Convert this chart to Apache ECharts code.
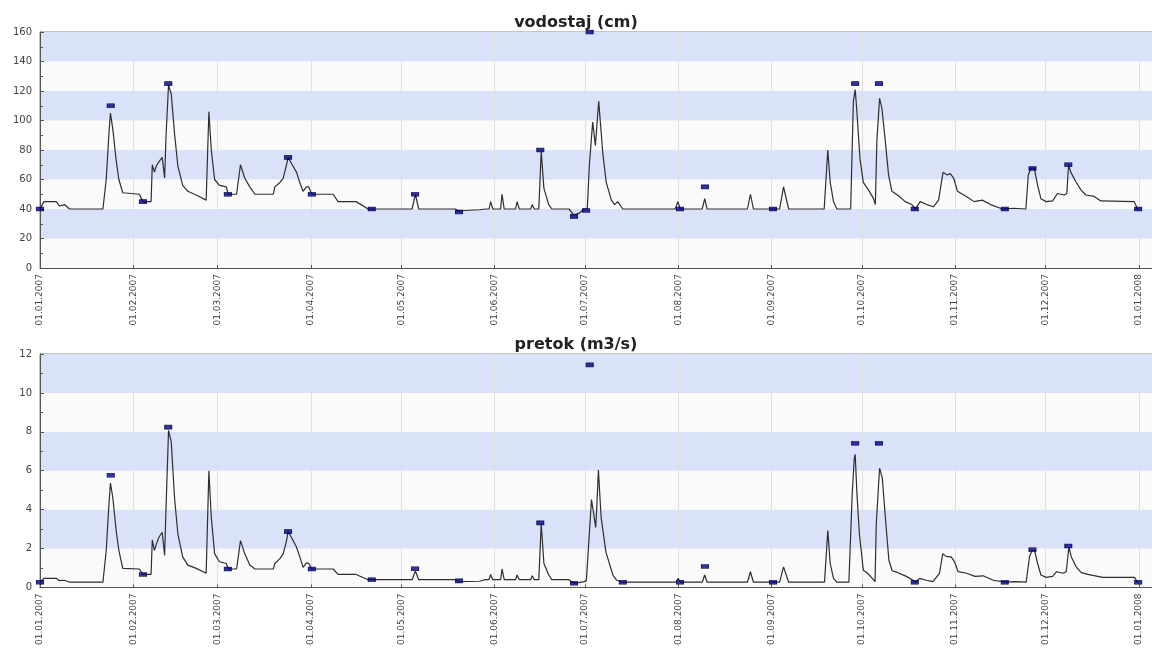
<!DOCTYPE html>
<html>
<head>
<meta charset="utf-8">
<title>vodostaj / pretok 2007</title>
<script src="https://cdn.jsdelivr.net/npm/echarts@6/dist/echarts.min.js"></script>
<style>
  html, body { margin: 0; padding: 0; background: #fff; }
  #chart { width: 1152px; height: 648px; }
</style>
</head>
<body>
<div id="chart"></div>
<script>
// x values are days counted from 01.01.2007
const monthStarts = [0, 31, 59, 90, 120, 151, 181, 212, 243, 273, 304, 334, 365]
const tickLabels = ['01.01.2007', '01.02.2007', '01.03.2007', '01.04.2007', '01.05.2007', '01.06.2007',
  '01.07.2007', '01.08.2007', '01.09.2007', '01.10.2007', '01.11.2007', '01.12.2007', '01.01.2008']

// vodostaj (cm) line
const stageDays = [0, 1.3, 5.4, 6.5, 8.1, 9.8, 20.9, 22, 22.9, 23.4, 24.2, 25.3, 26.2, 27.5, 33, 34.2, 36.9, 37.3, 38, 38.6,
  39.5, 40.6, 41.4, 41.9, 42.7, 43.6, 44.7, 45.8, 47.4, 49.1, 51.9, 55.2, 56.1, 56.9, 58, 59.6, 61.9, 62.5, 65.3, 66.6,
  68, 69.7, 71.4, 77.5, 78, 79.7, 80.8, 81.9, 82.4, 83.5, 85.2, 86.3, 87.4, 88.5, 89.3, 90.2, 97.4, 99, 105, 109,
  123.6, 124.7, 125.8, 138, 139, 141, 146, 148, 149.2, 149.7, 150.4, 153, 153.5, 154.2, 158, 158.5, 159.2, 163, 163.5, 164.2,
  165.7, 166.5, 167.4, 169, 170, 175.7, 177.3, 179, 180.7, 181.8, 182.5, 183.6, 184.5, 185.6, 187, 188.1, 189.8, 190.9, 191.9, 193.6,
  211, 211.9, 212.7, 220, 220.8, 221.6, 235, 236, 237, 245.7, 247, 248.7, 260.5, 261.7, 262.5, 263.6, 264.7, 269.3, 270.2, 270.8,
  271.3, 272.4, 273.5, 275.2, 276.9, 277.5, 278, 278.9, 279.7, 280.8, 281.9, 283, 285.2, 287.4, 289.6, 290.8, 292.4, 294.6, 296.8, 298.5,
  300, 301.3, 302.4, 303.5, 304.8, 308.1, 310.3, 313, 315.8, 319.7, 323.6, 327.5, 328.3, 329.2, 330.3, 331.4, 332.5, 334.2, 336.4, 338,
  340.3, 341.1, 341.7, 342.4, 344.1, 345.8, 347.4, 350.2, 352.4, 363.5, 364.6, 365]
const stage = [40, 45, 45, 42, 43, 40, 40, 60, 91, 105, 94, 73, 60, 51, 50, 45, 45, 70, 65, 69,
  72, 75, 61, 91, 124, 118, 91, 69, 56, 52, 49.5, 46, 106, 80, 60, 56, 55, 50, 50, 70,
  61, 55, 50, 50, 55, 58, 61, 70, 75, 71, 65, 58, 52, 55, 55, 50, 50, 45, 45, 40,
  40, 50, 40, 40, 38.5, 39, 39.5, 40, 40, 45, 40, 40, 50, 40, 40, 45, 40, 40, 43, 40,
  40, 79, 54, 43, 40, 40, 36, 37, 40, 40, 70, 99, 83, 113, 77, 58, 46, 43, 45, 40,
  40, 45, 40, 40, 47, 40, 40, 50, 40, 40, 55, 40, 40, 80, 58, 45, 40, 40, 113, 121,
  108, 74, 58, 53, 47, 43, 86, 115, 108, 86, 63, 52, 49, 45, 43, 40, 45, 43, 41.5, 46,
  65, 63, 64, 61, 52, 48, 45, 46, 43, 40, 40.5, 40, 63, 67.5, 67.5, 56, 47, 45, 45.5, 50.5,
  49.5, 50.5, 70, 65, 58.5, 53, 49.5, 48.5, 45.5, 45, 40, 40]

// vodostaj markers
const stageMarkDays = [0, 23.5, 34.2, 42.6, 62.4, 82.4, 90.3, 110.2, 124.6, 139.2, 166.2, 177.4, 181.4, 182.6,
  212.6, 220.9, 243.5, 270.8, 278.7, 290.6, 320.5, 329.7, 341.6, 364.8]
const stageMarks = [40, 110, 45, 125, 50, 75, 50, 40, 50, 38, 80, 35, 39, 160,
  40, 55, 40, 125, 125, 40, 40, 67.5, 70, 40]

// pretok (m3/s) line
const flowDays = [0, 1.3, 5.4, 6.5, 8.1, 9.8, 20.9, 22, 22.9, 23.4, 24.2, 25.3, 26.2, 27.5, 33, 34.2, 36.9, 37.3, 38, 38.6,
  39.5, 40.6, 41.4, 41.9, 42.7, 43.6, 44.7, 45.8, 47.4, 49.1, 51.9, 55.2, 56.1, 56.9, 58, 59.6, 61.9, 62.5, 65.3, 66.6,
  68, 69.7, 71.4, 77.5, 78, 79.7, 80.8, 81.9, 82.4, 83.5, 85.2, 86.3, 87.4, 88.5, 89.3, 90.2, 97.4, 99, 105, 109,
  123.6, 124.7, 125.8, 138, 139, 146, 148, 149.2, 149.7, 150.4, 153, 153.5, 154.2, 158, 158.5, 159.2, 163, 163.5, 164.2, 165.7,
  166.5, 167.4, 169, 170, 175.7, 177.3, 179, 180.7, 181.5, 183.2, 183.7, 184.6, 185, 185.5, 186.4, 188, 190.3, 191.6, 192, 193.6,
  211.3, 212, 212.7, 220, 220.8, 221.6, 235, 236, 237, 245.7, 247, 248.7, 260.6, 261.7, 262.5, 263.6, 264.7, 268.7, 269.8, 270.5,
  270.8, 271.4, 272.2, 273.5, 274.9, 276.5, 277.4, 277.8, 278.9, 279.8, 281, 282, 283.1, 285, 287.8, 290, 290.8, 292.2, 294.4, 296.6,
  298.8, 299.9, 301, 302.7, 303.8, 305, 307.8, 310.6, 313.3, 316.7, 320.7, 324, 327.6, 328.7, 329.5, 330.4, 331.4, 332.5, 334.2, 336.4,
  337.7, 339.8, 340.9, 341.8, 342.6, 344.2, 345.9, 348.1, 353, 363.6, 364.6, 365]
const flow = [0.27, 0.47, 0.47, 0.35, 0.37, 0.27, 0.27, 1.9, 4.27, 5.37, 4.6, 2.92, 1.9, 0.98, 0.95, 0.67, 0.67, 2.45, 1.9, 2.2,
  2.58, 2.84, 1.65, 4.27, 8.07, 7.48, 4.6, 2.75, 1.57, 1.15, 0.98, 0.73, 6.0, 3.6, 1.74, 1.32, 1.23, 0.95, 0.95, 2.41,
  1.74, 1.15, 0.95, 0.95, 1.23, 1.48, 1.74, 2.41, 2.87, 2.58, 2.08, 1.57, 1.03, 1.26, 1.24, 0.95, 0.95, 0.67, 0.67, 0.4,
  0.4, 0.85, 0.4, 0.4, 0.3, 0.32, 0.4, 0.4, 0.67, 0.4, 0.4, 0.95, 0.4, 0.4, 0.64, 0.4, 0.4, 0.6, 0.4, 0.4,
  3.26, 1.23, 0.64, 0.4, 0.4, 0.22, 0.25, 0.3, 0.35, 4.52, 4.6, 3.09, 4.27, 6.04, 3.6, 1.82, 0.64, 0.37, 0.42, 0.27,
  0.27, 0.47, 0.27, 0.27, 0.64, 0.27, 0.27, 0.81, 0.27, 0.27, 1.06, 0.27, 0.27, 2.92, 1.23, 0.47, 0.27, 0.27, 4.78, 6.63,
  6.84, 4.78, 2.75, 0.89, 0.73, 0.47, 0.3, 3.26, 6.13, 5.62, 3.26, 1.4, 0.86, 0.76, 0.57, 0.37, 0.27, 0.47, 0.37, 0.3,
  0.73, 1.74, 1.6, 1.57, 1.32, 0.81, 0.73, 0.57, 0.6, 0.37, 0.27, 0.3, 0.27, 1.57, 1.9, 1.9, 1.23, 0.64, 0.52, 0.57,
  0.81, 0.73, 0.81, 2.08, 1.57, 1.06, 0.76, 0.67, 0.52, 0.52, 0.27, 0.27]

// pretok markers
const flowMarkDays = [0, 23.5, 34.2, 42.6, 62.4, 82.4, 90.3, 110.2, 124.6, 139.2, 166.2, 177.4, 182.6, 193.6,
  212.6, 220.9, 243.5, 270.8, 278.7, 290.6, 320.5, 329.7, 341.6, 364.8]
const flowMarks = [0.27, 5.77, 0.67, 8.24, 0.95, 2.87, 0.95, 0.4, 0.96, 0.34, 3.32, 0.22, 11.44, 0.27,
  0.27, 1.08, 0.27, 7.41, 7.41, 0.27, 0.27, 1.94, 2.13, 0.27]

const zip = (xs, ys) => xs.map((x, i) => [x, ys[i]])

const font = 'DejaVu Sans'
const bandColors = ['#fafafa', '#dae2f9']

function xAxisFor(gridIndex) {
  return {
    type: 'value',
    gridIndex,
    min: 0,
    max: 369.4,
    axisLine: { show: true, lineStyle: { color: '#555', width: 1 } },
    axisTick: { show: true, inside: true, length: 3, customValues: monthStarts, lineStyle: { color: '#555' } },
    axisLabel: {
      show: true,
      customValues: monthStarts,
      rotate: 90,
      margin: 6,
      fontFamily: font,
      fontSize: 9,
      color: '#444',
      formatter: v => tickLabels[monthStarts.indexOf(v)] || ''
    },
    splitLine: { show: true, lineStyle: { color: '#e0e0e0', width: 1 } }
  }
}

function yAxisFor(gridIndex, max, interval) {
  return {
    type: 'value',
    gridIndex,
    min: 0,
    max,
    interval,
    axisLine: { show: true, lineStyle: { color: '#555', width: 1 } },
    axisTick: { show: true, inside: true, length: 4, lineStyle: { color: '#555' } },
    minorTick: { show: true, splitNumber: 2, length: 3, lineStyle: { color: '#555' } },
    axisLabel: { fontFamily: font, fontSize: 10, color: '#444', margin: 8 },
    splitLine: { show: false },
    splitArea: { show: true, areaStyle: { color: bandColors } }
  }
}

function lineSeries(idx, data) {
  return {
    type: 'line',
    xAxisIndex: idx,
    yAxisIndex: idx,
    data,
    showSymbol: false,
    lineStyle: { color: '#2e2e2e', width: 1.2 },
    z: 2
  }
}

function markSeries(idx, data) {
  return {
    type: 'scatter',
    xAxisIndex: idx,
    yAxisIndex: idx,
    data,
    symbol: 'rect',
    symbolSize: [7, 4],
    itemStyle: { color: '#00008c', borderColor: '#000033', borderWidth: 0.8 },
    clip: false,
    z: 3
  }
}

const chart = echarts.init(document.getElementById('chart'))
chart.setOption({
  animation: false,
  backgroundColor: '#fff',
  title: [
    { text: 'vodostaj (cm)', left: 'center', top: 10,
      textStyle: { fontFamily: font, fontSize: 16, fontWeight: 'bold', color: '#222' } },
    { text: 'pretok (m3/s)', left: 'center', top: 332,
      textStyle: { fontFamily: font, fontSize: 16, fontWeight: 'bold', color: '#222' } }
  ],
  grid: [
    { left: 40, right: 0, top: 32, height: 236, show: true, borderColor: '#888', borderWidth: 1, backgroundColor: 'transparent' },
    { left: 40, right: 0, top: 354, height: 237, show: true, borderColor: '#888', borderWidth: 1, backgroundColor: 'transparent' }
  ],
  xAxis: [xAxisFor(0), xAxisFor(1)],
  yAxis: [yAxisFor(0, 160, 20), yAxisFor(1, 12, 2)],
  series: [
    lineSeries(0, zip(stageDays, stage)),
    markSeries(0, zip(stageMarkDays, stageMarks)),
    lineSeries(1, zip(flowDays, flow)),
    markSeries(1, zip(flowMarkDays, flowMarks))
  ]
})
</script>
</body>
</html>
